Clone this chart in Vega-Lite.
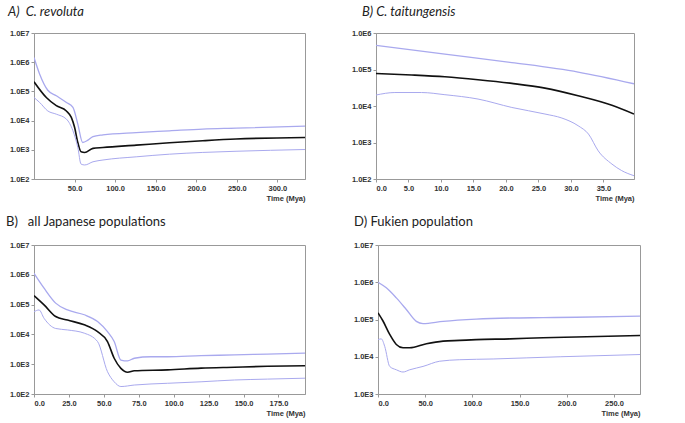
{
  "$schema": "https://vega.github.io/schema/vega-lite/v6.json",
  "padding": {"left": 5, "top": 5, "right": 5, "bottom": 5},
  "background": "white",
  "config": {
    "view": {"stroke": "#999999", "strokeWidth": 1},
    "axis": {
      "labelFont": "Liberation Sans", "labelFontSize": 7.5, "labelFontWeight": "bold", "labelColor": "#333333",
      "titleFont": "Liberation Sans", "titleFontSize": 7.5, "titleFontWeight": "bold", "titleColor": "#333333",
      "domainColor": "#999999", "tickColor": "#999999", "tickSize": 3, "grid": false, "labelPadding": 2
    },
    "title": {"font": "Lato", "fontSize": 13, "fontWeight": "normal", "color": "#222222", "anchor": "start", "frame": "bounds"},
    "line": {"interpolate": "monotone"}
  },
  "datasets": {
    "A": [
      {"t": 0, "ne": 213800, "s": "median"}, {"t": 15.2, "ne": 61660, "s": "median"}, {"t": 27.5, "ne": 32360, "s": "median"}, {"t": 39.9, "ne": 21380, "s": "median"}, {"t": 46, "ne": 12880, "s": "median"}, {"t": 50, "ne": 5890, "s": "median"}, {"t": 54, "ne": 1780, "s": "median"}, {"t": 58, "ne": 851, "s": "median"}, {"t": 62.5, "ne": 813, "s": "median"}, {"t": 72.7, "ne": 1122, "s": "median"}, {"t": 85, "ne": 1202, "s": "median"}, {"t": 126, "ne": 1445, "s": "median"}, {"t": 167, "ne": 1738, "s": "median"}, {"t": 208, "ne": 2042, "s": "median"}, {"t": 249, "ne": 2344, "s": "median"}, {"t": 334, "ne": 2630, "s": "median"},
      {"t": 0, "ne": 1445000, "s": "upper"}, {"t": 7, "ne": 389000, "s": "upper"}, {"t": 17, "ne": 109600, "s": "upper"}, {"t": 27.5, "ne": 70800, "s": "upper"}, {"t": 40, "ne": 41700, "s": "upper"}, {"t": 48, "ne": 28200, "s": "upper"}, {"t": 54, "ne": 7590, "s": "upper"}, {"t": 60, "ne": 1778, "s": "upper"}, {"t": 66.5, "ne": 2138, "s": "upper"}, {"t": 72.7, "ne": 2818, "s": "upper"}, {"t": 85, "ne": 3236, "s": "upper"}, {"t": 126, "ne": 3890, "s": "upper"}, {"t": 167, "ne": 4467, "s": "upper"}, {"t": 208, "ne": 5130, "s": "upper"}, {"t": 249, "ne": 5500, "s": "upper"}, {"t": 334, "ne": 6460, "s": "upper"},
      {"t": 0, "ne": 61660, "s": "lower"}, {"t": 7, "ne": 41700, "s": "lower"}, {"t": 17, "ne": 21380, "s": "lower"}, {"t": 27.5, "ne": 16600, "s": "lower"}, {"t": 40, "ne": 11220, "s": "lower"}, {"t": 48, "ne": 4467, "s": "lower"}, {"t": 54, "ne": 1202, "s": "lower"}, {"t": 58, "ne": 324, "s": "lower"}, {"t": 62.5, "ne": 302, "s": "lower"}, {"t": 72.7, "ne": 389, "s": "lower"}, {"t": 85, "ne": 447, "s": "lower"}, {"t": 126, "ne": 575, "s": "lower"}, {"t": 167, "ne": 708, "s": "lower"}, {"t": 208, "ne": 813, "s": "lower"}, {"t": 249, "ne": 891, "s": "lower"}, {"t": 334, "ne": 1023, "s": "lower"}
    ],
    "B": [
      {"t": 0, "ne": 77600, "s": "median"}, {"t": 5.5, "ne": 70800, "s": "median"}, {"t": 10.6, "ne": 63100, "s": "median"}, {"t": 15.7, "ne": 52500, "s": "median"}, {"t": 20.9, "ne": 41700, "s": "median"}, {"t": 26, "ne": 30900, "s": "median"}, {"t": 31.1, "ne": 19050, "s": "median"}, {"t": 36.3, "ne": 10470, "s": "median"}, {"t": 39.7, "ne": 6030, "s": "median"},
      {"t": 0, "ne": 457000, "s": "upper"}, {"t": 10.6, "ne": 263000, "s": "upper"}, {"t": 20.9, "ne": 155000, "s": "upper"}, {"t": 31.1, "ne": 85100, "s": "upper"}, {"t": 39.7, "ne": 40700, "s": "upper"},
      {"t": 0, "ne": 19950, "s": "lower"}, {"t": 2.9, "ne": 23400, "s": "lower"}, {"t": 7, "ne": 23400, "s": "lower"}, {"t": 10.6, "ne": 20400, "s": "lower"}, {"t": 15.7, "ne": 15500, "s": "lower"}, {"t": 20.9, "ne": 9120, "s": "lower"}, {"t": 26, "ne": 6030, "s": "lower"}, {"t": 28.6, "ne": 4680, "s": "lower"}, {"t": 31.1, "ne": 2880, "s": "lower"}, {"t": 32.7, "ne": 1700, "s": "lower"}, {"t": 34.2, "ne": 589, "s": "lower"}, {"t": 36.3, "ne": 257, "s": "lower"}, {"t": 37.8, "ne": 170, "s": "lower"}, {"t": 39.7, "ne": 123, "s": "lower"}
    ],
    "C": [
      {"t": 0, "ne": 199500, "s": "median"}, {"t": 7.2, "ne": 97700, "s": "median"}, {"t": 15.5, "ne": 39800, "s": "median"}, {"t": 24, "ne": 30200, "s": "median"}, {"t": 36, "ne": 20900, "s": "median"}, {"t": 45.5, "ne": 12300, "s": "median"}, {"t": 52.6, "ne": 5750, "s": "median"}, {"t": 57.4, "ne": 1585, "s": "median"}, {"t": 62.2, "ne": 724, "s": "median"}, {"t": 67, "ne": 537, "s": "median"}, {"t": 71.8, "ne": 603, "s": "median"}, {"t": 95.7, "ne": 646, "s": "median"}, {"t": 119.6, "ne": 741, "s": "median"}, {"t": 143.5, "ne": 794, "s": "median"}, {"t": 167, "ne": 851, "s": "median"}, {"t": 194, "ne": 891, "s": "median"},
      {"t": 0, "ne": 1122000, "s": "upper"}, {"t": 7.2, "ne": 355000, "s": "upper"}, {"t": 15.5, "ne": 112200, "s": "upper"}, {"t": 24, "ne": 66100, "s": "upper"}, {"t": 36, "ne": 45700, "s": "upper"}, {"t": 45.5, "ne": 26900, "s": "upper"}, {"t": 52.6, "ne": 12300, "s": "upper"}, {"t": 57.4, "ne": 5750, "s": "upper"}, {"t": 62.2, "ne": 1380, "s": "upper"}, {"t": 67, "ne": 1288, "s": "upper"}, {"t": 71.8, "ne": 1585, "s": "upper"}, {"t": 83.7, "ne": 1778, "s": "upper"}, {"t": 95.7, "ne": 1778, "s": "upper"}, {"t": 119.6, "ne": 1950, "s": "upper"}, {"t": 143.5, "ne": 2040, "s": "upper"}, {"t": 167, "ne": 2190, "s": "upper"}, {"t": 194, "ne": 2340, "s": "upper"},
      {"t": 0, "ne": 57500, "s": "lower"}, {"t": 3.6, "ne": 66100, "s": "lower"}, {"t": 7.2, "ne": 34700, "s": "lower"}, {"t": 15.5, "ne": 15800, "s": "lower"}, {"t": 24, "ne": 14100, "s": "lower"}, {"t": 36, "ne": 11000, "s": "lower"}, {"t": 45.5, "ne": 5750, "s": "lower"}, {"t": 52.6, "ne": 562, "s": "lower"}, {"t": 57.4, "ne": 257, "s": "lower"}, {"t": 62.2, "ne": 178, "s": "lower"}, {"t": 71.8, "ne": 200, "s": "lower"}, {"t": 95.7, "ne": 229, "s": "lower"}, {"t": 119.6, "ne": 257, "s": "lower"}, {"t": 143.5, "ne": 295, "s": "lower"}, {"t": 167, "ne": 316, "s": "lower"}, {"t": 194, "ne": 339, "s": "lower"}
    ],
    "D": [
      {"t": 0, "ne": 151000, "s": "median"}, {"t": 5.3, "ne": 91200, "s": "median"}, {"t": 12.4, "ne": 39800, "s": "median"}, {"t": 19.4, "ne": 21400, "s": "median"}, {"t": 26.5, "ne": 17400, "s": "median"}, {"t": 33.6, "ne": 17400, "s": "median"}, {"t": 51.3, "ne": 22400, "s": "median"}, {"t": 69, "ne": 26300, "s": "median"}, {"t": 86.6, "ne": 27500, "s": "median"}, {"t": 104, "ne": 28800, "s": "median"}, {"t": 140, "ne": 30200, "s": "median"}, {"t": 175, "ne": 32400, "s": "median"}, {"t": 210, "ne": 33900, "s": "median"}, {"t": 277.6, "ne": 37200, "s": "median"},
      {"t": 0, "ne": 1000000, "s": "upper"}, {"t": 8.8, "ne": 708000, "s": "upper"}, {"t": 19.4, "ne": 380000, "s": "upper"}, {"t": 30, "ne": 186000, "s": "upper"}, {"t": 40.6, "ne": 89100, "s": "upper"}, {"t": 47.7, "ne": 77600, "s": "upper"}, {"t": 69, "ne": 89100, "s": "upper"}, {"t": 104, "ne": 102300, "s": "upper"}, {"t": 140, "ne": 109600, "s": "upper"}, {"t": 175, "ne": 112200, "s": "upper"}, {"t": 210, "ne": 114800, "s": "upper"}, {"t": 277.6, "ne": 123000, "s": "upper"},
      {"t": 0, "ne": 28800, "s": "lower"}, {"t": 3.5, "ne": 30200, "s": "lower"}, {"t": 7.1, "ne": 19050, "s": "lower"}, {"t": 12.4, "ne": 5500, "s": "lower"}, {"t": 19.4, "ne": 4470, "s": "lower"}, {"t": 26.5, "ne": 3890, "s": "lower"}, {"t": 33.6, "ne": 4470, "s": "lower"}, {"t": 47.7, "ne": 5500, "s": "lower"}, {"t": 65.4, "ne": 7590, "s": "lower"}, {"t": 86.6, "ne": 8320, "s": "lower"}, {"t": 122, "ne": 8710, "s": "lower"}, {"t": 157.7, "ne": 9330, "s": "lower"}, {"t": 193, "ne": 10000, "s": "lower"}, {"t": 277.6, "ne": 11480, "s": "lower"}
    ]
  },
  "vconcat": [
    {
      "spacing": 43,
      "hconcat": [
        {
          "title": {"text": "A)\u00a0\u00a0C. revoluta", "fontStyle": "italic", "offset": 10},
          "width": 271, "height": 146,
          "data": {"name": "A"},
          "mark": {"type": "line", "clip": true},
          "encoding": {
            "x": {"field": "t", "type": "quantitative", "scale": {"domain": [0, 334], "nice": false, "zero": false},
                  "axis": {"values": [50, 100, 150, 200, 250, 300], "format": ".1f", "title": "Time (Mya)", "titleAnchor": "end", "titlePadding": 3}},
            "y": {"field": "ne", "type": "quantitative", "scale": {"type": "log", "domain": [100, 10000000], "nice": false},
                  "axis": {"values": [100, 1000, 10000, 100000, 1000000, 10000000], "labelExpr": "'1.0E' + round(log(datum.value)/LN10)", "title": null, "minExtent": 26, "maxExtent": 26}},
            "color": {"field": "s", "type": "nominal", "scale": {"domain": ["median", "upper", "lower"], "range": ["#111111", "#a9a9ee", "#a9a9ee"]}, "legend": null},
            "strokeWidth": {"field": "s", "type": "nominal", "scale": {"domain": ["median", "upper", "lower"], "range": [1.6, 1, 1]}, "legend": null}
          }
        },
        {
          "title": {"text": "B) C. taitungensis", "fontStyle": "italic", "offset": 10, "dx": 12},
          "width": 258, "height": 146,
          "data": {"name": "B"},
          "mark": {"type": "line", "clip": true},
          "encoding": {
            "x": {"field": "t", "type": "quantitative", "scale": {"domain": [0, 39.7], "nice": false, "zero": false},
                  "axis": {"values": [0, 5, 10, 15, 20, 25, 30, 35], "format": ".1f", "title": "Time (Mya)", "titleAnchor": "end", "titlePadding": 3}},
            "y": {"field": "ne", "type": "quantitative", "scale": {"type": "log", "domain": [100, 1000000], "nice": false},
                  "axis": {"values": [100, 1000, 10000, 100000, 1000000], "labelExpr": "'1.0E' + round(log(datum.value)/LN10)", "title": null, "minExtent": 26, "maxExtent": 26}},
            "color": {"field": "s", "type": "nominal", "scale": {"domain": ["median", "upper", "lower"], "range": ["#111111", "#a9a9ee", "#a9a9ee"]}, "legend": null},
            "strokeWidth": {"field": "s", "type": "nominal", "scale": {"domain": ["median", "upper", "lower"], "range": [1.6, 1, 1]}, "legend": null}
          }
        }
      ]
    },
    {
      "spacing": 45,
      "hconcat": [
        {
          "title": {"text": "B)\u00a0\u00a0 all Japanese populations", "offset": 12},
          "width": 271, "height": 149,
          "data": {"name": "C"},
          "mark": {"type": "line", "clip": true},
          "encoding": {
            "x": {"field": "t", "type": "quantitative", "scale": {"domain": [0, 194], "nice": false, "zero": false},
                  "axis": {"values": [0, 25, 50, 75, 100, 125, 150, 175], "format": ".1f", "title": "Time (Mya)", "titleAnchor": "end", "titlePadding": 3}},
            "y": {"field": "ne", "type": "quantitative", "scale": {"type": "log", "domain": [100, 10000000], "nice": false},
                  "axis": {"values": [100, 1000, 10000, 100000, 1000000, 10000000], "labelExpr": "'1.0E' + round(log(datum.value)/LN10)", "title": null, "minExtent": 28, "maxExtent": 28}},
            "color": {"field": "s", "type": "nominal", "scale": {"domain": ["median", "upper", "lower"], "range": ["#111111", "#a9a9ee", "#a9a9ee"]}, "legend": null},
            "strokeWidth": {"field": "s", "type": "nominal", "scale": {"domain": ["median", "upper", "lower"], "range": [1.6, 1, 1]}, "legend": null}
          }
        },
        {
          "title": {"text": "D) Fukien population", "offset": 12, "dx": 2},
          "width": 262, "height": 149,
          "data": {"name": "D"},
          "mark": {"type": "line", "clip": true},
          "encoding": {
            "x": {"field": "t", "type": "quantitative", "scale": {"domain": [0, 277.6], "nice": false, "zero": false},
                  "axis": {"values": [0, 50, 100, 150, 200, 250], "format": ".1f", "title": "Time (Mya)", "titleAnchor": "end", "titlePadding": 3}},
            "y": {"field": "ne", "type": "quantitative", "scale": {"type": "log", "domain": [1000, 10000000], "nice": false},
                  "axis": {"values": [1000, 10000, 100000, 1000000, 10000000], "labelExpr": "'1.0E' + round(log(datum.value)/LN10)", "title": null, "minExtent": 26, "maxExtent": 26}},
            "color": {"field": "s", "type": "nominal", "scale": {"domain": ["median", "upper", "lower"], "range": ["#111111", "#a9a9ee", "#a9a9ee"]}, "legend": null},
            "strokeWidth": {"field": "s", "type": "nominal", "scale": {"domain": ["median", "upper", "lower"], "range": [1.6, 1, 1]}, "legend": null}
          }
        }
      ]
    }
  ],
  "spacing": 12
}
